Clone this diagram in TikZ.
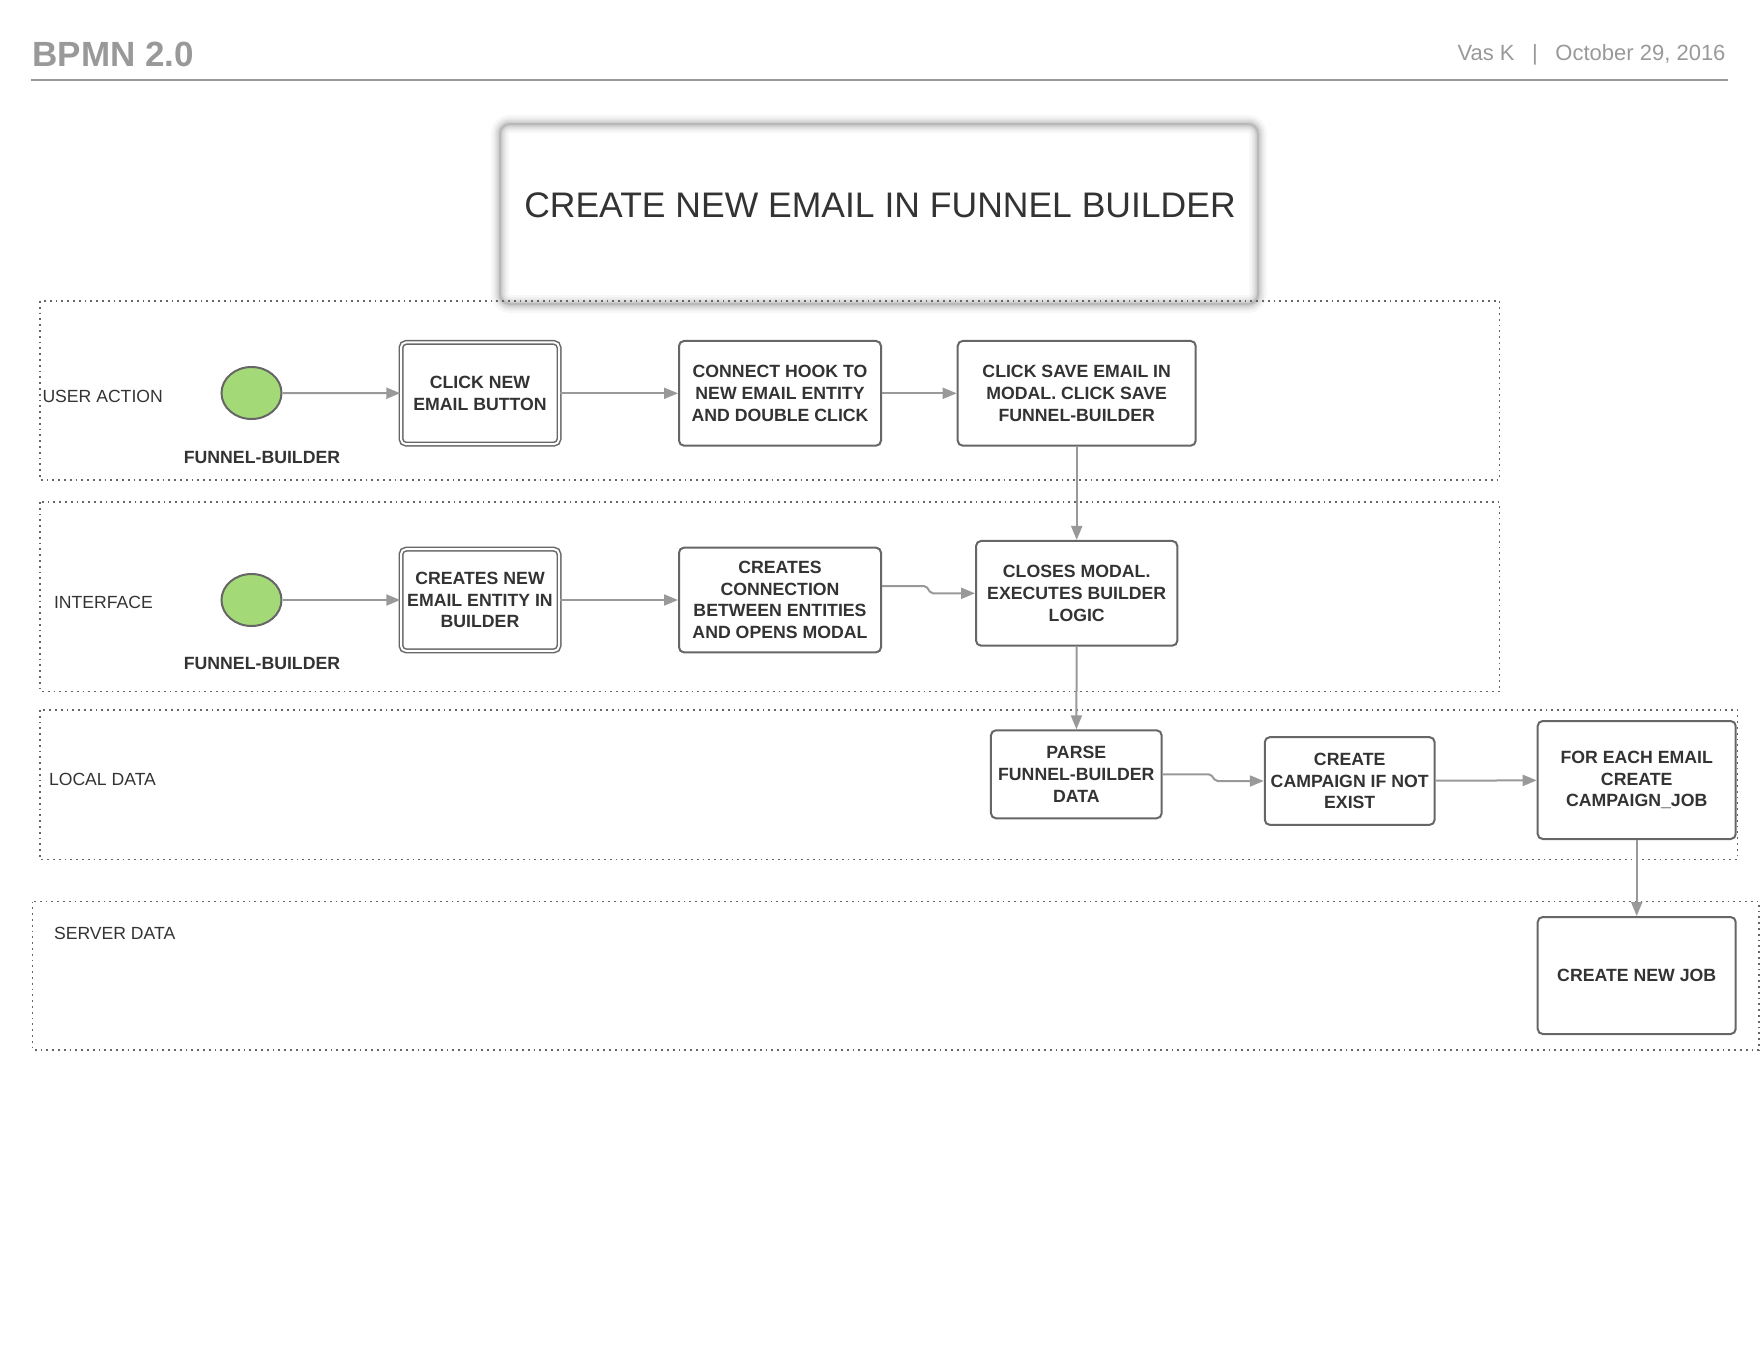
\documentclass[tikz,border=0pt]{standalone}
\usepackage{fontspec}
\setmainfont{Liberation Sans}
\usetikzlibrary{arrows.meta,shapes.geometric}
\definecolor{boxline}{HTML}{666666}
\definecolor{flowline}{HTML}{999999}
\definecolor{txt}{HTML}{333333}
\definecolor{headgray}{HTML}{999999}
\definecolor{startgreen}{HTML}{A3D977}
\begin{document}
\begin{tikzpicture}[x=1pt, y=-1pt, auto, >={Triangle[length=14pt,width=11pt]},
  task node/.style={rectangle,draw=boxline,line width=2pt,rounded corners=5pt,fill=white,align=center,inner sep=0pt,text=txt,font=\bfseries\fontsize{17.7}{21.7}\selectfont},
  call node/.style={task node,double=white,double distance=2pt,line width=1.5pt},
  start node/.style={ellipse,draw=boxline,line width=2pt,fill=startgreen,minimum width=60pt,minimum height=52pt,inner sep=0pt},
  lane/.style={draw=boxline,line width=1.8pt,dash pattern=on 1.8pt off 4pt},
  lane label/.style={anchor=west,text=txt,font=\fontsize{17.6}{21}\selectfont}]
\useasboundingbox (0,0) rectangle (1760,1360);
% header
\node[anchor=west,text=headgray,font=\bfseries\fontsize{35}{40}\selectfont] (head) at (29,54) {BPMN 2.0};
\node[anchor=east,text=headgray,font=\fontsize{22}{26}\selectfont] (date) at (1729,55) {Vas K\hspace{0.8em}|\hspace{0.8em}October 29, 2016};
\draw[headgray,line width=2pt] (31,80) -- (1728,80);
% title box
\foreach \w/\o in {18/0.03,13/0.045,9/0.06,5/0.08,2/0.1}
  \draw[black,opacity=\o,line width=\w pt,rounded corners=10pt] (500,124) rectangle (1258,304);
\node[text=txt,font=\fontsize{35.5}{40}\selectfont] (title) at (880,205) {CREATE NEW EMAIL IN FUNNEL BUILDER};
% lanes
\draw[lane] (40,301) rectangle (1499.5,480);
\draw[lane] (40,502) rectangle (1499.5,691.5);
\draw[lane] (40,710) rectangle (1737.5,859.5);
\draw[lane] (32.5,901.5) rectangle (1759,1050);
\node[lane label] (ua) at (39,396) {USER ACTION};
\node[lane label] (if) at (50.5,602) {INTERFACE};
\node[lane label] (ld) at (45.5,779) {LOCAL DATA};
\node[lane label] (sd) at (50.5,933) {SERVER DATA};
\begin{scope}[every node/.style={}]
\node[start node] (s1) at (251.5,393) {};
\node[start node] (s2) at (251.5,600) {};
\node[text=txt,font=\bfseries\fontsize{17.7}{21.7}\selectfont] (f1) at (262,457) {FUNNEL-BUILDER};
\node[text=txt,font=\bfseries\fontsize{17.7}{21.7}\selectfont] (f2) at (262,663) {FUNNEL-BUILDER};
\node[call node,minimum width=158pt,minimum height=101.7pt] (u1) at (480,393.3) {CLICK NEW\\EMAIL BUTTON};
\node[task node,minimum width=202pt,minimum height=104.7pt] (u2) at (780,393.3) {CONNECT HOOK TO\\NEW EMAIL ENTITY\\AND DOUBLE CLICK};
\node[task node,minimum width=238pt,minimum height=104.7pt] (u3) at (1076.7,393.3) {CLICK SAVE EMAIL IN\\MODAL. CLICK SAVE\\FUNNEL-BUILDER};
\node[call node,minimum width=158pt,minimum height=101.7pt] (i1) at (480,600) {CREATES NEW\\EMAIL ENTITY IN\\BUILDER};
\node[task node,minimum width=202pt,minimum height=104.7pt] (i2) at (780,600) {CREATES\\CONNECTION\\BETWEEN ENTITIES\\AND OPENS MODAL};
\node[task node,minimum width=201.3pt,minimum height=104.7pt] (i3) at (1076.7,593.3) {CLOSES MODAL.\\EXECUTES BUILDER\\LOGIC};
\node[task node,minimum width=170.7pt,minimum height=88pt] (l1) at (1076.3,774.3) {PARSE\\FUNNEL-BUILDER\\DATA};
\node[task node,minimum width=169.8pt,minimum height=87.7pt] (l2) at (1349.7,781) {CREATE\\CAMPAIGN IF NOT\\EXIST};
\node[task node,minimum width=198pt,minimum height=118pt] (l3) at (1636.7,780) {FOR EACH EMAIL\\CREATE\\CAMPAIGN\_JOB};
\node[task node,minimum width=198pt,minimum height=117pt] (d1) at (1636.7,975.5) {CREATE NEW JOB};
%\node[task node] () at (,) {};
\end{scope}
\begin{scope}[every edge/.style={draw=flowline,line width=2pt}]
\draw[->] (s1) edge (u1);
\draw[->] (u1) edge (u2);
\draw[->] (u2) edge (u3);
\draw[->] (u3) edge (i3);
\draw[->] (s2) edge (i1);
\draw[->] (i1) edge (i2);
\draw[->] (i3) edge (l1);
\draw[->] (l2) edge (l3);
\draw[->] (l3) edge (d1);
\end{scope}
\draw[->,flowline,line width=2pt,rounded corners=2pt] ([yshift=14pt]i2.east) -- ++(44,0) -- ++(5,7.3) -- (i3.west);
\draw[->,flowline,line width=2pt,rounded corners=2pt] (l1.east) -- ++(48,0) -- ++(5,6.7) -- (l2.west);
\end{tikzpicture}
\end{document}
